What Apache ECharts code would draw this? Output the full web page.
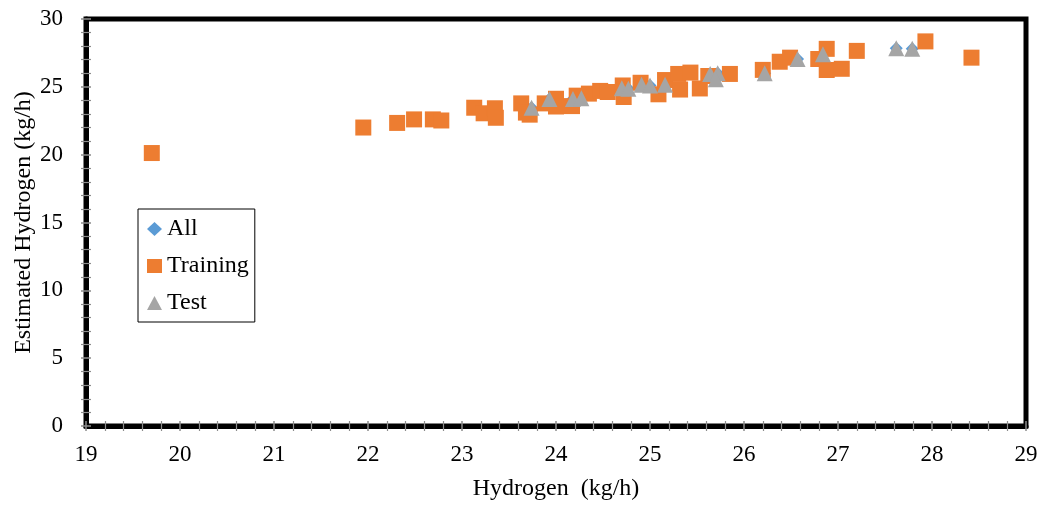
<!DOCTYPE html>
<html>
<head>
<meta charset="utf-8">
<script src="https://cdn.jsdelivr.net/npm/echarts@6/dist/echarts.min.js"></script>
<style>
  html, body { margin: 0; padding: 0; background: #fff; }
  #chart { width: 1043px; height: 506px; }
</style>
</head>
<body>
<div id="chart"></div>
<script>
// Measured vs. estimated hydrogen flow, [Hydrogen, Estimated Hydrogen] in kg/h
const trainingPoints = [
  [19.70, 20.12], [21.95, 22.00], [22.31, 22.34], [22.49, 22.60], [22.69, 22.60],
  [22.78, 22.52], [23.13, 23.46], [23.23, 23.05], [23.35, 23.42], [23.36, 22.72],
  [23.63, 23.78], [23.68, 23.10], [23.72, 22.95], [23.88, 23.78], [24.00, 24.12],
  [24.00, 23.55], [24.17, 23.58], [24.22, 24.35], [24.35, 24.50], [24.47, 24.70],
  [24.55, 24.62], [24.71, 25.10], [24.72, 24.25], [24.90, 25.30], [25.09, 24.45],
  [25.16, 25.50], [25.30, 25.95], [25.32, 24.80], [25.43, 26.05], [25.53, 24.88],
  [25.62, 25.80], [25.85, 25.95], [26.20, 26.25], [26.38, 26.85], [26.49, 27.15],
  [26.79, 27.05], [26.88, 27.80], [26.88, 26.24], [27.04, 26.33], [27.20, 27.65],
  [27.93, 28.35], [28.42, 27.15]
];
const testPoints = [
  [23.74, 23.45], [23.93, 24.10], [24.18, 24.10], [24.27, 24.15], [24.70, 24.90],
  [24.77, 24.85], [24.91, 25.15], [25.00, 25.10], [25.16, 25.15], [25.64, 25.95],
  [25.72, 26.00], [25.70, 25.55], [26.22, 26.00], [26.57, 27.05], [26.84, 27.40],
  [27.62, 27.85], [27.79, 27.80]
];
// "All" holds every sample from both sets
const allPoints = trainingPoints.concat(testPoints);

const seriesNames = ['All', 'Training', 'Test'];
const xTicks = { min: 19, max: 29, step: 1 };
const yTicks = { min: 0, max: 30, step: 5 };

const serif = 'Liberation Serif';
const tickGray = '#8c8c8c';

const chart = echarts.init(document.getElementById('chart'), null, { renderer: 'canvas' });

const baseAxis = (t, pos) => ({
  type: 'value',
  position: pos,
  min: t.min,
  max: t.max,
  interval: t.step,
  splitLine: { show: false },
  minorSplitLine: { show: false },
});

// Tick marks cross the heavy axis line: one set outward, a twin axis draws them inward
const outerTicks = {
  axisTick: { show: true, inside: false, length: 5, lineStyle: { color: tickGray, width: 1.5 } },
  minorTick: { show: true, splitNumber: 5, length: 5, lineStyle: { color: tickGray, width: 1.2 } }
};
const innerTicks = {
  axisLine: { show: false },
  axisLabel: { show: false },
  axisTick: { show: true, inside: true, length: 5, lineStyle: { color: tickGray, width: 1.5 } },
  minorTick: { show: true, splitNumber: 5, length: 5, lineStyle: { color: tickGray, width: 1.2 } }
};

chart.setOption({
  animation: false,
  backgroundColor: '#fff',
  grid: {
    left: 86, right: 17, top: 19, bottom: 80,
    outerBoundsMode: 'none',
    show: true, borderColor: '#000', borderWidth: 5, backgroundColor: '#fff'
  },
  legend: {
    orient: 'vertical',
    left: 138, top: 209,
    data: [
      { name: seriesNames[0], icon: 'diamond', itemStyle: { color: '#5B9BD5' } },
      { name: seriesNames[1], icon: 'rect', itemStyle: { color: '#ED7D31' } },
      { name: seriesNames[2], icon: 'triangle', itemStyle: { color: '#A5A5A5' } }
    ],
    itemWidth: 15, itemHeight: 14, itemGap: 13,
    padding: [8, 6, 7, 9],
    borderColor: '#000', borderWidth: 1, backgroundColor: '#fff',
    textStyle: { fontFamily: serif, fontSize: 24, color: '#000' }
  },
  xAxis: [
    Object.assign(baseAxis(xTicks, 'bottom'), outerTicks, {
      name: 'Hydrogen  (kg/h)',
      nameLocation: 'middle',
      nameGap: 51,
      nameMoveOverlap: false,
      nameTextStyle: { fontFamily: serif, fontSize: 24, color: '#000' },
      axisLine: { show: true, lineStyle: { color: '#000', width: 5 } },
      axisLabel: { fontFamily: serif, fontSize: 23, color: '#000', margin: 17 }
    }),
    Object.assign(baseAxis(xTicks, 'bottom'), innerTicks)
  ],
  yAxis: [
    Object.assign(baseAxis(yTicks, 'left'), outerTicks, {
      name: 'Estimated Hydrogen (kg/h)',
      nameLocation: 'middle',
      nameGap: 50,
      nameMoveOverlap: false,
      nameTextStyle: { fontFamily: serif, fontSize: 24, color: '#000' },
      axisLine: { show: true, lineStyle: { color: '#000', width: 5 } },
      axisLabel: { fontFamily: serif, fontSize: 23, color: '#000', margin: 23 }
    }),
    Object.assign(baseAxis(yTicks, 'left'), innerTicks)
  ],
  series: [
    {
      name: seriesNames[0], type: 'scatter', data: allPoints,
      symbol: 'diamond', symbolSize: 13,
      itemStyle: { color: '#5B9BD5', opacity: 1 }, z: 2
    },
    {
      name: seriesNames[1], type: 'scatter', data: trainingPoints,
      symbol: 'rect', symbolSize: 16,
      itemStyle: { color: '#ED7D31', opacity: 1 }, z: 3
    },
    {
      name: seriesNames[2], type: 'scatter', data: testPoints,
      symbol: 'triangle', symbolSize: 16,
      itemStyle: { color: '#A5A5A5', opacity: 1 }, z: 4
    }
  ]
});
</script>
</body>
</html>
